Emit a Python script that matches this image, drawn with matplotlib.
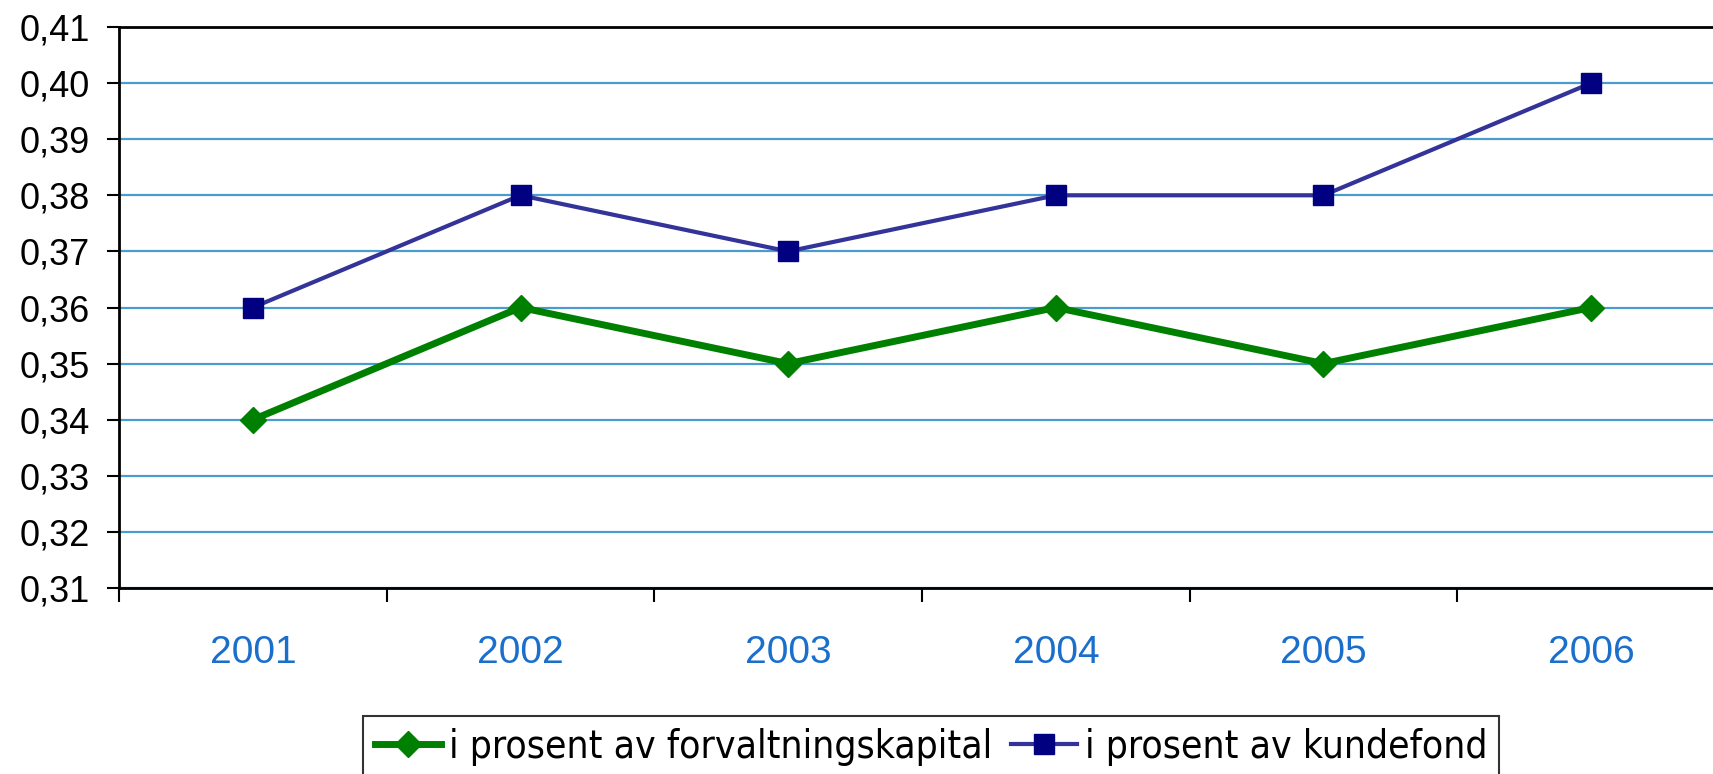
import matplotlib
matplotlib.use("Agg")
import matplotlib.pyplot as plt
from matplotlib import font_manager as fm
import numpy as np

# data
years = ["2001", "2002", "2003", "2004", "2005", "2006"]
forvaltning = [0.34, 0.36, 0.35, 0.36, 0.35, 0.36]
kundefond = [0.36, 0.38, 0.37, 0.38, 0.38, 0.40]
y_ticks = [0.31, 0.32, 0.33, 0.34, 0.35, 0.36, 0.37, 0.38, 0.39, 0.40, 0.41]

plt.rcParams['font.family'] = ['Liberation Sans', 'DejaVu Sans']

# look for a condensed face for the legend text
cond = fm.findfont(fm.FontProperties(family='DejaVu Sans', stretch='condensed'))
has_cond = 'Condensed' in cond

W, H = 1713, 774
fig = plt.figure(figsize=(W / 100, H / 100), dpi=100)
# axes runs slightly past the right edge, like the original
ax = fig.add_axes([119 / W, (H - 588) / H, 1606 / W, 561 / H])

x = np.arange(len(years))
ax.plot(x, kundefond, color='#333399', linewidth=3, marker='s',
        markersize=15, markerfacecolor='#000080', markeredgecolor='#000080',
        label='i prosent av kundefond', zorder=3)
ax.plot(x, forvaltning, color='#008000', linewidth=5, marker='D',
        markersize=13.5, markerfacecolor='#008000', markeredgecolor='#008000',
        label='i prosent av forvaltningskapital', zorder=4)

ax.set_ylim(0.31, 0.41)
ax.set_yticks(y_ticks)
ax.set_yticklabels([("%.2f" % v).replace('.', ',') for v in y_ticks])
ax.yaxis.grid(True, color='#4a9bd0', linewidth=1.6)
ax.set_axisbelow(True)

ax.set_xlim(-0.5, len(years) - 0.5)
ax.set_xticks(np.arange(-0.5, len(years), 1.0))
ax.set_xticklabels([])
ax.set_xticks(x, minor=True)
ax.set_xticklabels(years, minor=True)
ax.tick_params(axis='x', which='major', length=10, width=1.5, direction='out')
ax.tick_params(axis='x', which='minor', length=0, pad=34, labelsize=28,
               labelcolor='#1a6fcc')
ax.tick_params(axis='y', length=9, width=1.5, pad=12, labelsize=26)

for s in ax.spines.values():
    s.set_linewidth(2)
    s.set_color('black')

if has_cond:
    leg_font = fm.FontProperties(family='DejaVu Sans', stretch='condensed', size=28)
else:
    leg_font = fm.FontProperties(family='Liberation Sans', size=28)

handles, labels = ax.get_legend_handles_labels()
leg = fig.legend(handles[::-1], labels[::-1], loc='upper left',
                 bbox_to_anchor=(363 / W, 1 - 716 / H), ncol=2, prop=leg_font,
                 frameon=True, fancybox=False, edgecolor='black',
                 handlelength=1.7, handletextpad=0.2, columnspacing=0.5,
                 borderpad=0.3, borderaxespad=0)
leg.get_frame().set_linewidth(1.5)

fig.savefig('out.png', dpi=100)
